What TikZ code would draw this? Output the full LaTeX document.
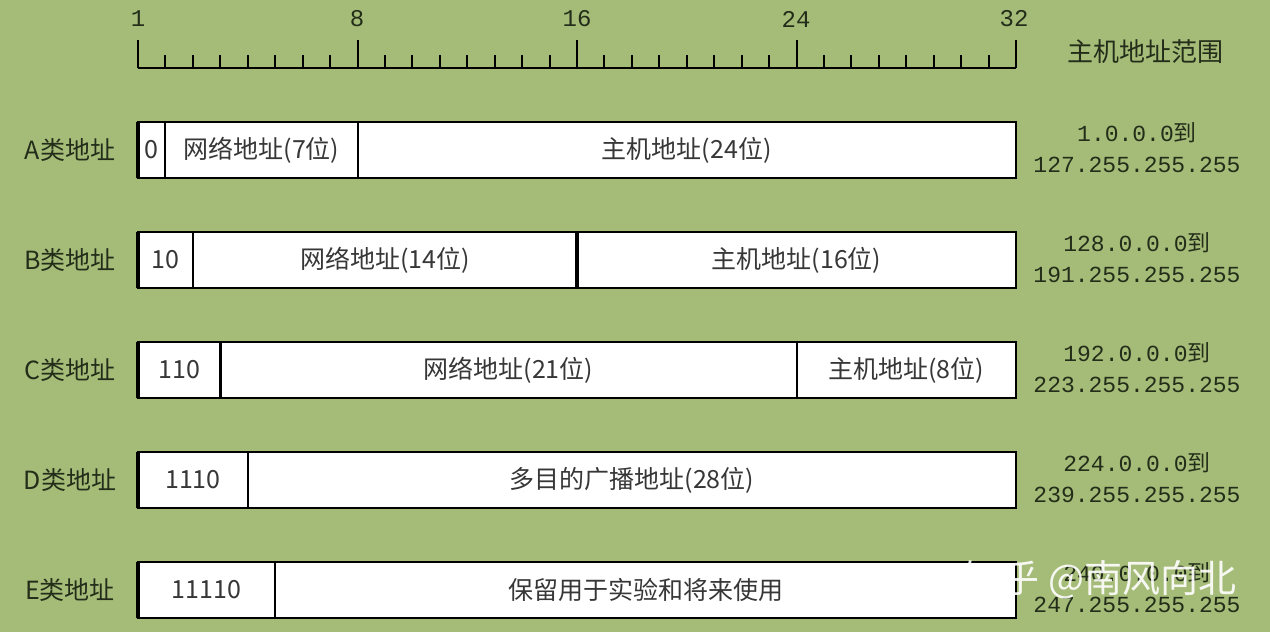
\documentclass[tikz,border=0pt]{standalone}
\usepackage{fontspec}
\setmainfont{Noto Sans CJK SC}
\newfontfamily\monofont{Liberation Mono}
\usetikzlibrary{positioning}
\definecolor{bggreen}{RGB}{165,188,120}
\definecolor{txtgray}{RGB}{55,55,55}
\definecolor{labelgreen}{RGB}{35,45,25}
\begin{document}
\begin{tikzpicture}[x=0.5pt, y=-0.5pt,
    field/.style={rectangle, draw, fill=white, line width=1pt, minimum height=28pt, inner sep=0pt, outer sep=0pt, font=\fontsize{12.5}{14}\selectfont, text=txtgray},
    rowlabel/.style={font=\fontsize{12.5}{14}\selectfont, text=labelgreen},
    iprange/.style={font=\monofont\fontsize{11.5}{15.5}\selectfont, text=labelgreen, align=center, inner sep=0pt},
    bitnum/.style={font=\monofont\fontsize{12}{14}\selectfont, text=labelgreen, inner sep=0pt}
]
% Background
\fill[bggreen] (0,0) rectangle (1270,632);
\useasboundingbox (0,0) rectangle (1270,632);

% Ruler
\draw[line width=1pt] (138,68) -- (1016,68);
\foreach \i in {0,...,32} {
  \draw[line width=1pt] ({138+\i*27.4375},68) -- ++(0,-13);
}
\foreach \i in {0,8,16,24,32} {
  \draw[line width=1pt] ({138+\i*27.4375},68) -- ++(0,-28);
}
\node[bitnum] (n1) at (138,19) {1};
\node[bitnum] (n8) at (357,19) {8};
\node[bitnum] (n16) at (577,19) {16};
\node[bitnum] (n24) at (796,19) {24};
\node[bitnum] (n32) at (1014,19) {32};
\node[font=\fontsize{13}{15}\selectfont, text=labelgreen] (hosthdr) at (1145,52) {主机地址范围};

% A
\node[rowlabel] (alabel) at (70,150) {A类地址};
\node[field, minimum width=13.72pt, anchor=west] (a0) at (138,150) {0};
\node[field, minimum width=7*13.72pt, right=0pt of a0] (anet) {网络地址(7位)};
\node[field, minimum width=24*13.72pt, right=0pt of anet] (ahost) {主机地址(24位)};
\draw[line width=2pt] (a0.north west) -- (a0.south west);
\node[iprange] (arange) at (1137,148) {1.0.0.0{\rmfamily 到}\\127.255.255.255};

% B
\node[rowlabel] (blabel) at (70,260) {B类地址};
\node[field, minimum width=2*13.72pt, anchor=west] (b0) at (138,260) {10};
\node[field, minimum width=14*13.72pt, right=0pt of b0] (bnet) {网络地址(14位)};
\node[field, minimum width=16*13.72pt, right=0pt of bnet] (bhost) {主机地址(16位)};
\draw[line width=2pt] (b0.north west) -- (b0.south west);
\draw[line width=1.6pt] (bnet.north east) -- (bnet.south east);
\node[iprange] (brange) at (1137,258) {128.0.0.0{\rmfamily 到}\\191.255.255.255};

% C
\node[rowlabel] (clabel) at (70,370) {C类地址};
\node[field, minimum width=3*13.72pt, anchor=west] (c0) at (138,370) {110};
\node[field, minimum width=21*13.72pt, right=0pt of c0] (cnet) {网络地址(21位)};
\node[field, minimum width=8*13.72pt, right=0pt of cnet] (chost) {主机地址(8位)};
\draw[line width=2pt] (c0.north west) -- (c0.south west);
\draw[line width=1.6pt] (c0.north east) -- (c0.south east);
\node[iprange] (crange) at (1137,368) {192.0.0.0{\rmfamily 到}\\223.255.255.255};

% D
\node[rowlabel] (dlabel) at (70,480) {D类地址};
\node[field, minimum width=4*13.72pt, anchor=west] (d0) at (138,480) {1110};
\node[field, minimum width=28*13.72pt, right=0pt of d0] (dcast) {多目的广播地址(28位)};
\draw[line width=2pt] (d0.north west) -- (d0.south west);
\node[iprange] (drange) at (1137,478) {224.0.0.0{\rmfamily 到}\\239.255.255.255};

% E
\node[rowlabel] (elabel) at (70,590) {E类地址};
\node[field, minimum width=5*13.72pt, anchor=west] (e0) at (138,590) {11110};
\node[field, minimum width=27*13.72pt, right=0pt of e0] (eres) {保留用于实验和将来使用};
\draw[line width=2pt] (e0.north west) -- (e0.south west);
\node[iprange] (erange) at (1137,588) {240.0.0.0{\rmfamily 到}\\247.255.255.255};

% Watermark
\node[text=white, opacity=0.9, font=\fontsize{19}{21}\selectfont] (mark) at (1100,580) {知乎 @南风向北};
\end{tikzpicture}
\end{document}
